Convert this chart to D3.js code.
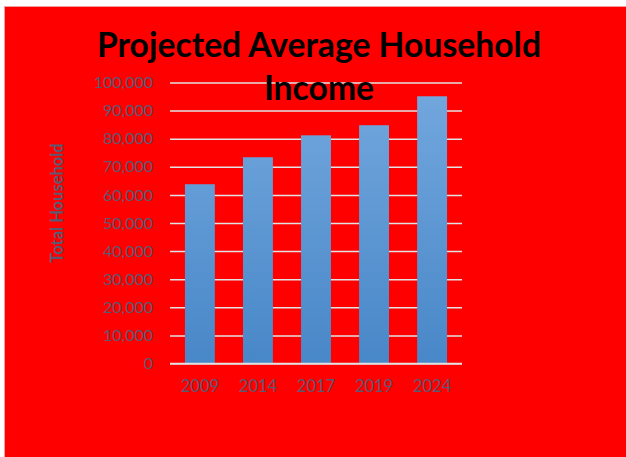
<!DOCTYPE html>
<html>
<head>
	<meta charset="UTF-8">
	<title>Projected Average Household Income</title>
	<style>
		body { margin: 0; background: #fff; }
		svg text { font-family: Lato, "Open Sans", sans-serif; }
	</style>
</head>
<body>
	<div class="chart"></div>

	<script src="https://d3js.org/d3.v7.min.js"></script>
	<script type="text/javascript">
		var years = ["2009", "2014", "2017", "2019", "2024"];
		var income = [63800, 73400, 81200, 84800, 95100];
		var yTicks = [0, 10000, 20000, 30000, 40000, 50000, 60000, 70000, 80000, 90000, 100000];
		var titleLines = ["Projected Average Household", "Income"];
		var yTitle = "Total Household";

		var w = 626;
		var h = 457;
		var plot = {left: 170, right: 462, top: 82.5, bottom: 363.5};

		var svg = d3.select("div.chart").append("svg")
			.attr("width", w)
			.attr("height", h);

		/* red chart area with a faint border */
		svg.append("rect")
			.attr("x", 4.5).attr("y", 6.5)
			.attr("width", w).attr("height", h)
			.attr("fill", "#FF0000")
			.attr("stroke", "#F4A0A0")
			.attr("stroke-width", 1);

		var defs = svg.append("defs");
		var grad = defs.append("linearGradient")
			.attr("id", "barGrad")
			.attr("gradientUnits", "userSpaceOnUse")
			.attr("x1", 0).attr("y1", plot.top)
			.attr("x2", 0).attr("y2", plot.bottom);
		grad.append("stop").attr("offset", "0%").attr("stop-color", "#74A8DE");
		grad.append("stop").attr("offset", "100%").attr("stop-color", "#4887C8");

		var x = d3.scaleBand()
			.domain(years)
			.range([plot.left, plot.right])
			.paddingInner(0.485)
			.paddingOuter(0.2575);

		var y = d3.scaleLinear()
			.domain([0, 100000])
			.range([plot.bottom, plot.top]);

		/* y axis: grid lines + labels */
		var yAxis = d3.axisLeft(y)
			.tickValues(yTicks)
			.tickSize(-(plot.right - plot.left))
			.tickPadding(17)
			.tickFormat(d3.format(",d"));

		var gy = svg.append("g")
			.attr("transform", "translate(" + plot.left + ",0)")
			.call(yAxis);
		gy.select(".domain").remove();
		gy.selectAll(".tick line")
			.attr("stroke", "#E2E2E2")
			.attr("stroke-width", 1.5);
		gy.selectAll(".tick text")
			.attr("fill", "#595971")
			.style("font-size", "16px");

		/* bars */
		svg.selectAll("rect.bar")
			.data(income)
			.enter().append("rect")
			.attr("class", "bar")
			.attr("x", function(d, i){ return x(years[i]); })
			.attr("width", x.bandwidth())
			.attr("y", function(d){ return y(d); })
			.attr("height", function(d){ return y(0) - y(d); })
			.attr("fill", "url(#barGrad)");

		/* baseline over the bars */
		svg.append("line")
			.attr("x1", plot.left).attr("x2", plot.right)
			.attr("y1", y(0)).attr("y2", y(0))
			.attr("stroke", "#E2E2E2")
			.attr("stroke-width", 1.5);

		/* x axis labels */
		var xAxis = d3.axisBottom(x).tickSize(0).tickPadding(17);
		var gx = svg.append("g")
			.attr("transform", "translate(0," + plot.bottom + ")")
			.call(xAxis);
		gx.select(".domain").remove();
		gx.selectAll(".tick text")
			.attr("fill", "#595971")
			.style("font-size", "16.5px");

		/* title */
		svg.selectAll("text.title")
			.data(titleLines)
			.enter().append("text")
			.attr("class", "title")
			.attr("x", 319)
			.attr("y", function(d, i){ return 57 + i * 43; })
			.attr("text-anchor", "middle")
			.attr("fill", "#000")
			.style("font-size", "33.7px")
			.style("font-weight", "bold")
			.text(function(d){ return d; });

		/* y axis title */
		svg.append("text")
			.attr("transform", "translate(63,203) rotate(-90)")
			.attr("text-anchor", "middle")
			.attr("fill", "#595971")
			.style("font-size", "16.5px")
			.style("font-weight", "bold")
			.text(yTitle);
	</script>
</body>
</html>
